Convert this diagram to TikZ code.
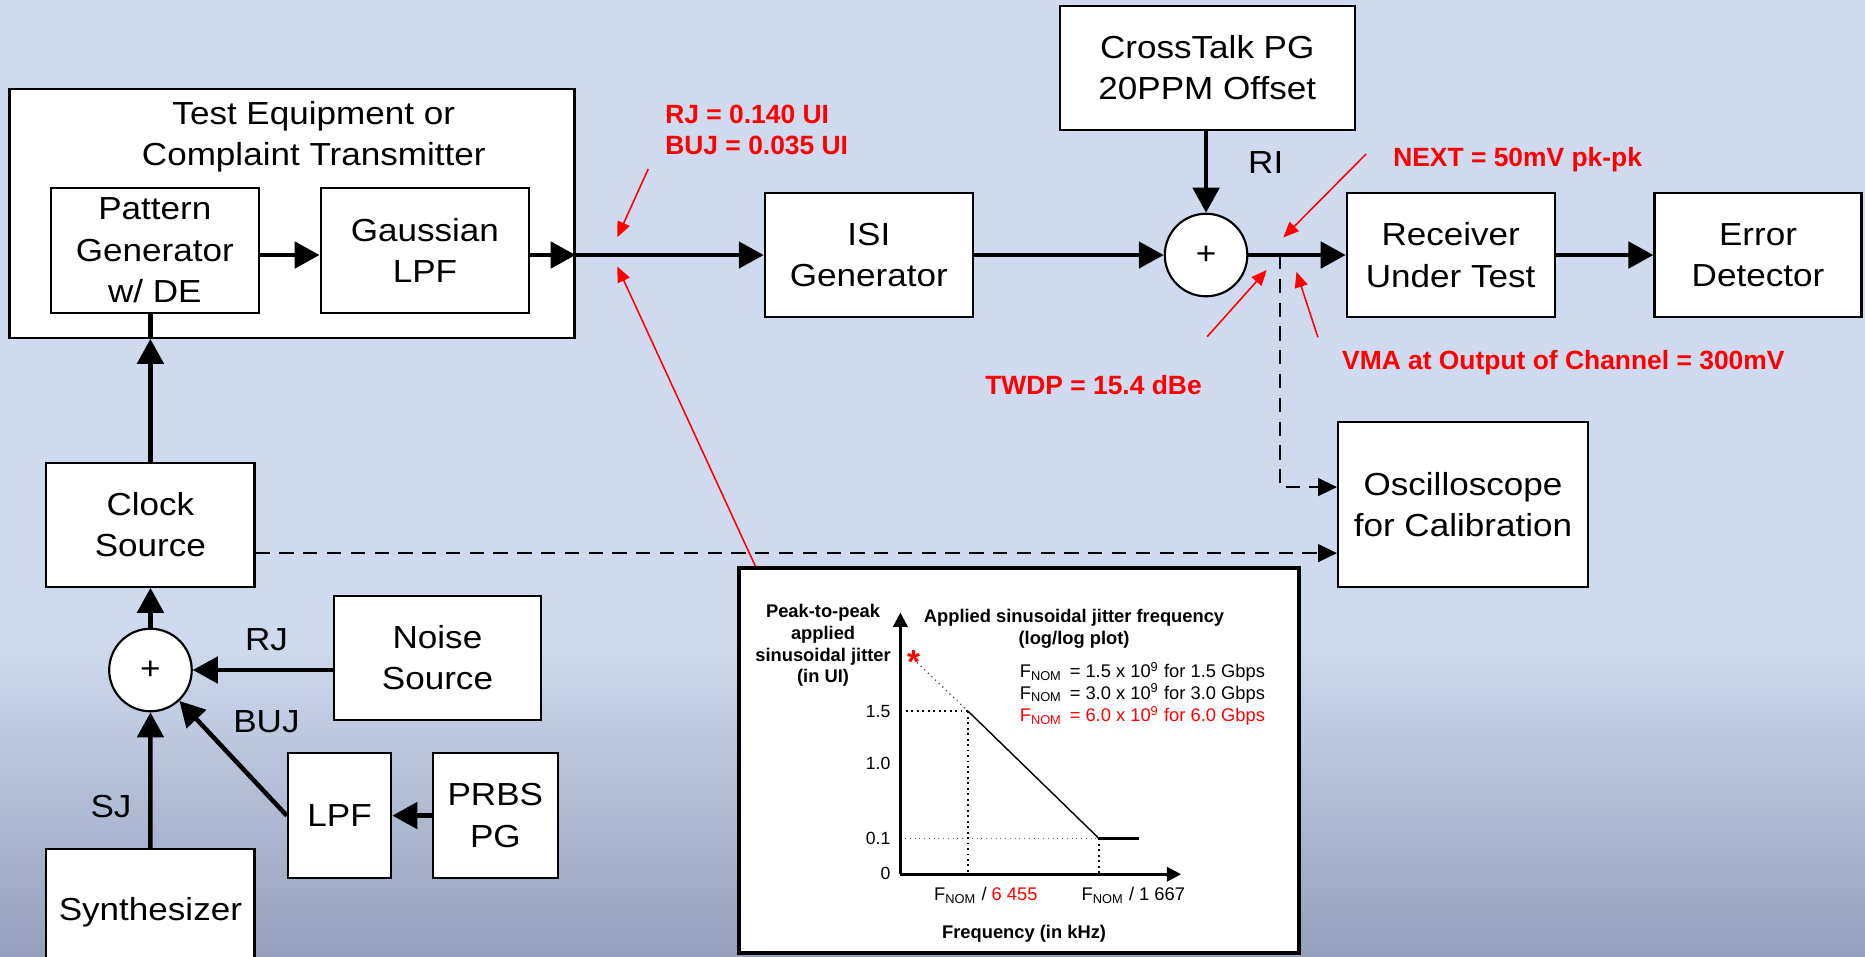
\documentclass[tikz,border=0pt]{standalone}
\usepackage{fontspec}
\setmainfont{Liberation Sans}
\newfontfamily\diagfont{Liberation Sans}[FakeStretch=1.1]
\usetikzlibrary{arrows.meta,calc}
\definecolor{bgtop}{RGB}{207,218,238}
\definecolor{bgmid}{RGB}{186,197,223}
\definecolor{bgbot}{RGB}{148,159,188}
\definecolor{annred}{RGB}{255,0,0}
\newcommand\fmain{\diagfont\fontsize{13.4}{17.4}\selectfont}
\newcommand\fred{\fontsize{11.1}{13.3}\selectfont\bfseries}
\newcommand\fplot{\fontsize{7.7}{9.15}\selectfont}
\newcommand\ftick{\fontsize{7.4}{9}\selectfont}
\newcommand\fnom{F\textsubscript{NOM}}
\tikzset{
  blk/.style={draw=black, line width=0.9pt, fill=white, inner sep=0pt, align=center, font=\fmain},
  bx/.style 2 args={minimum width=#1, minimum height=#2},
  sumnode/.style={circle, draw=black, line width=0.9pt, fill=white, inner sep=0pt, minimum size=34.7pt, font=\fmain},
  sig/.style={line width=1.9pt, -{Triangle[length=10.5pt,width=11pt]}},
  sigline/.style={line width=1.9pt},
  dsh/.style={line width=0.85pt, dash pattern=on 6pt off 4pt, -{Triangle[length=8pt,width=7.5pt]}},
  redarr/.style={draw=annred, line width=0.65pt, -{Triangle[length=6.5pt,width=5.5pt]}},
  redlbl/.style={text=annred, font=\fred, inner sep=0pt, anchor=base west},
  lbl/.style={font=\fmain, inner sep=0pt, anchor=base},
  plottxt/.style={font=\fplot, inner sep=0pt},
  axis/.style={line width=1.1pt, -{Triangle[length=6pt,width=6pt]}},
  bigdots/.style={line width=0.8pt, dash pattern=on 0.8pt off 1.5pt},
  faintdots/.style={line width=0.4pt, draw=black!60, dash pattern=on 0.4pt off 1.6pt},
}
\begin{document}
\begin{tikzpicture}[x=0.5pt,y=-0.5pt]
\useasboundingbox (0,0) rectangle (1568,804);
\clip (0,0) rectangle (1568,804);
% background
\fill[bgtop] (0,0) rectangle (1568,541);
\shade[top color=bgtop, middle color=bgmid, bottom color=bgbot] (0,540) rectangle (1568,804);

% ---------- blocks ----------
\node[blk, bx={237.5pt}{104.5pt}] (tx) at (245.5,179.5) {};
\node[font=\fmain, align=center, inner sep=0pt] (txtitle) at (263.8,114.8) {Test Equipment or\\Complaint Transmitter};
\node[blk, bx={87.35pt}{52.3pt}] (pg) at (130.15,210.6) {Pattern\\Generator\\w/ DE};
\node[blk, bx={87.65pt}{52.3pt}] (glpf) at (357.25,210.6) {Gaussian\\LPF};
\node[blk, bx={87.5pt}{52.4pt}] (isi) at (730.5,214.4) {ISI\\Generator};
\node[blk, bx={124pt}{52pt}] (xtalk) at (1015,57) {CrossTalk PG\\20PPM Offset};
\node[sumnode] (sum1) at (1014,214.4) {+};
\node[blk, bx={87.35pt}{52.4pt}] (rx) at (1219.65,214.4) {Receiver\\Under Test};
\node[blk, bx={87pt}{52.4pt}] (err) at (1478,214.4) {Error\\Detector};
\node[blk, bx={105pt}{69.5pt}] (osc) at (1230,424.1) {Oscilloscope\\for Calibration};
\node[blk, bx={87.55pt}{52.15pt}] (clk) at (126.45,441.15) {Clock\\Source};
\node[sumnode] (sum2) at (126.5,563.3) {+};
\node[blk, bx={87.2pt}{52.25pt}] (noise) at (367.8,553.05) {Noise\\Source};
\node[blk, bx={43.5pt}{52.3pt}] (lpf) at (285.5,685.7) {LPF};
\node[blk, bx={52.55pt}{52.3pt}] (prbs) at (416.45,685.7) {PRBS\\PG};
\node[blk, bx={87.55pt}{53pt}] (synth) at (126.45,767) {Synthesizer};

% ---------- connectors ----------
\coordinate (ml) at (0,214.4);
\draw[sig] (pg.east |- ml) -- (glpf.west |- ml);
\draw[sig] (glpf.east |- ml) -- (tx.east |- ml);
\draw[sig] (tx.east |- ml) -- (isi.west);
\draw[sig] (isi.east) -- (sum1.west);
\draw[sig] (sum1.north |- xtalk.south) -- (sum1.north);
\draw[sig] (sum1.east) -- (rx.west);
\draw[sig] (rx.east) -- (err.west);
\draw[sigline] (clk.north |- tx.south) -- (clk.north |- pg.south);
\draw[sig] (clk.north) -- (clk.north |- tx.south);
\draw[sig] (sum2.north) -- (sum2.north |- clk.south);
\draw[sig] (noise.west |- sum2.center) -- (sum2.east);
\draw[sig] (prbs.west) -- (lpf.east);
\draw[sig] (lpf.west) -- (sum2);
\draw[sig] (synth.north) -- (sum2.south);

\coordinate (tap) at (1076,214.4);
\coordinate (oscA) at (0,409.5);
\coordinate (oscB) at (0,465);
\draw[dsh] (tap) -- (tap |- oscA) -- (osc.west |- oscA);
\draw[dsh] (clk.east |- oscB) -- (osc.west |- oscB);

% ---------- labels ----------
\node[lbl, anchor=base west] (lri) at (1049,146) {RI};
\node[lbl] (lrj) at (224,547) {RJ};
\node[lbl] (lbuj) at (224,616) {BUJ};
\node[lbl] (lsj) at (93.3,687) {SJ};

% ---------- red annotations ----------
\node[redlbl] (rj) at (559,103.7) {RJ = 0.140 UI};
\node[redlbl] (buj) at (559,130) {BUJ = 0.035 UI};
\node[redlbl] (next) at (1171,140) {NEXT = 50mV pk-pk};
\node[redlbl] (twdp) at (828,332) {TWDP = 15.4 dBe};
\node[redlbl] (vma) at (1128,311) {VMA at Output of Channel = 300mV};

\coordinate (a1s) at (545,142);   \coordinate (a1e) at (519,199.5);
\coordinate (a2s) at (636,478);   \coordinate (a2e) at (519,224);
\coordinate (a3s) at (1148.5,129.5); \coordinate (a3e) at (1079,199.6);
\coordinate (a4s) at (1015,283);  \coordinate (a4e) at (1065,227);
\coordinate (a5s) at (1108,283.5); \coordinate (a5e) at (1090,228.5);
\draw[redarr] (a1s) -- (a1e);
\draw[redarr] (a2s) -- (a2e);
\draw[redarr] (a3s) -- (a3e);
\draw[redarr] (a4s) -- (a4e);
\draw[redarr] (a5s) -- (a5e);

% ---------- inset plot ----------
\node[draw=black, line width=1.6pt, fill=white, inner sep=0pt, minimum width=235.5pt, minimum height=161.95pt] (plot) at (856.5,639.55) {};
\coordinate (O) at (757,735);
\coordinate (ytop) at (757,515);
\coordinate (xend) at (993,735);
\coordinate (p15) at (814,598);
\coordinate (knee) at (924,705);
\coordinate (flat) at (958,705);
\coordinate (sst) at (771,557);

\draw[faintdots] (O |- knee) -- (knee);
\draw[bigdots] (O |- p15) -- (p15);
\draw[bigdots] (p15) -- (p15 |- O);
\draw[bigdots] (knee) -- (knee |- O);
\draw[line width=0.5pt, draw=black!75, dash pattern=on 0.5pt off 1.6pt] (sst) -- (p15);
\draw[line width=0.6pt] (p15) -- (knee);
\draw[line width=0.9pt] (knee) -- (flat);
\draw[axis] (O) -- (ytop);
\draw[axis] (O) -- (xend);

\node[text=annred, font=\fontsize{14}{14}\selectfont\bfseries, inner sep=0pt, anchor=base] (star) at (768.2,566.5) {*};

\node[font=\ftick, inner sep=0pt, anchor=east] (t15) at (749,598) {1.5};
\node[font=\ftick, inner sep=0pt, anchor=east] (t10) at (749,642) {1.0};
\node[font=\ftick, inner sep=0pt, anchor=east] (t01) at (749,705) {0.1};
\node[font=\ftick, inner sep=0pt, anchor=east] (t00) at (749,734) {0};

\node[plottxt, font=\fplot\bfseries, align=center] (ylab) at (692,542.6) {Peak-to-peak\\applied\\sinusoidal jitter\\(in UI)};
\node[plottxt, font=\fplot\bfseries, align=center] (ttl) at (903,528.9) {Applied sinusoidal jitter frequency\\(log/log plot)};

\node[plottxt, anchor=base west] (f1) at (857,569.8) {\fnom};
\node[plottxt, anchor=base west] (e1) at (899,569.8) {= 1.5 x 10\textsuperscript{9} for 1.5 Gbps};
\node[plottxt, anchor=base west] (f2) at (857,588) {\fnom};
\node[plottxt, anchor=base west] (e2) at (899,588) {= 3.0 x 10\textsuperscript{9} for 3.0 Gbps};
\node[plottxt, anchor=base west, text=annred] (f3) at (857,606.8) {\fnom};
\node[plottxt, anchor=base west, text=annred] (e3) at (899,606.8) {= 6.0 x 10\textsuperscript{9} for 6.0 Gbps};

\node[plottxt, anchor=base west] (x1) at (785,757.5) {\fnom\ / \textcolor{annred}{6 455}};
\node[plottxt, anchor=base west] (x2) at (909,757.5) {\fnom\ / 1 667};
\node[plottxt, font=\fplot\bfseries, anchor=base] (xlab) at (861,789) {Frequency (in kHz)};
\end{tikzpicture}
\end{document}
